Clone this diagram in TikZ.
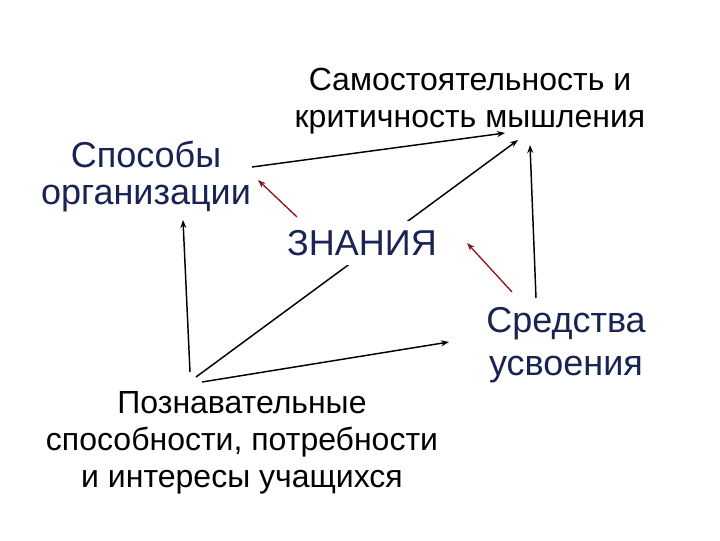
\documentclass[tikz,border=0pt]{standalone}
\usepackage{fontspec}
\setmainfont{Liberation Sans}
\usetikzlibrary{arrows.meta,backgrounds}

\definecolor{navytext}{RGB}{25,36,82}
\definecolor{darkred}{RGB}{140,22,30}

\tikzset{every picture/.style={line width=0.75pt}}
\tikzset{
  lbl/.style={align=center, inner sep=0pt, font=\fontsize{24}{27.75}\selectfont},
  bluelbl/.style={lbl, text=navytext, font=\fontsize{27}{27.75}\selectfont},
  arr/.style={line width=1.1pt, -{Stealth[length=6pt,width=4.5pt]}},
  redarr/.style={arr, draw=darkred, line width=1pt}
}

\begin{document}
\begin{tikzpicture}[x=0.75pt,y=0.75pt,yscale=-1,xscale=1]
	\useasboundingbox (0,0) rectangle (720,540);

	% Text Nodes
	\node[lbl] (samost) at (470,101) {Самостоятельность и\\критичность мышления};
	\node[bluelbl] (sposoby) at (146,177) {Способы\\организации};
	\node[bluelbl, fill=white, inner xsep=2pt, inner ysep=7pt] (znaniya) at (362,243) {ЗНАНИЯ};
	\node[bluelbl, font=\fontsize{27}{32}\selectfont] (sredstva) at (566,345) {Средства\\усвоения};
	\node[lbl] (poznav) at (242,443) {Познавательные\\способности, потребности\\и интересы учащихся};

	% arrow ends
	\coordinate (a1s) at (252,167);
	\coordinate (a1e) at (505,133);
	\coordinate (a2s) at (196,377);
	\coordinate (a2e) at (518,140);
	\coordinate (a3s) at (190,372);
	\coordinate (a3e) at (183,220);
	\coordinate (a4s) at (202,382);
	\coordinate (a4e) at (449,342);
	\coordinate (a5s) at (536,298);
	\coordinate (a5e) at (530,145);
	\coordinate (r1s) at (297,217);
	\coordinate (r1e) at (258,180);
	\coordinate (r2s) at (512,292);
	\coordinate (r2e) at (467,243);

	\begin{scope}[on background layer]
	% Straight Lines
	\draw[arr] (a1s) -- (a1e);
	\draw[arr] (a2s) -- (a2e);
	\draw[arr] (a3s) -- (a3e);
	\draw[arr] (a4s) -- (a4e);
	\draw[arr] (a5s) -- (a5e);
	% red lines
	\draw[redarr] (r1s) -- (r1e);
	\draw[redarr] (r2s) -- (r2e);
	\end{scope}

\end{tikzpicture}
\end{document}
